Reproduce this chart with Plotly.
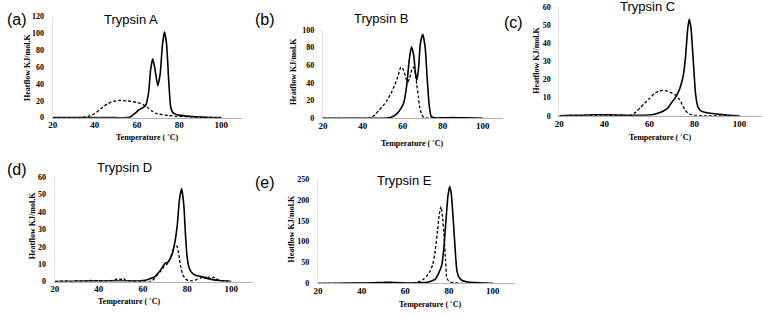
import plotly.graph_objects as go

# ---------------- data ----------------
A_x_solid = [20, 30, 40, 50, 55, 57, 59, 61, 62.5, 64, 65.5, 66.5, 67.5, 68.5, 69.8, 71, 72, 73, 74, 75, 76, 77, 78, 80, 85, 90, 95, 100]
A_y_solid = [0, 0, 0, 0, 0, 1, 5, 9.5, 11.5, 14, 30, 58, 70, 58, 38, 52, 85, 102, 88, 45, 12, 6, 4.5, 3, 1.5, 0.7, 0.2, 0]
A_x_dash = [20, 30, 34, 37, 40, 43, 46, 49, 52, 55, 58, 61, 63, 65, 67, 69, 72, 75, 80, 85, 90, 95, 100]
A_y_dash = [0, 0, 0.3, 1.5, 5, 11, 16.5, 19.5, 20.5, 20, 19, 17.5, 15.5, 12, 8, 5, 3.5, 2.5, 1.5, 1, 0.5, 0.2, 0]

B_x_solid = [20, 30, 40, 50, 53, 55, 57, 59, 60.5, 62, 63.2, 64.3, 65.4, 66.3, 67, 67.8, 68.8, 70, 71.2, 72.2, 73.2, 74.2, 76, 80, 85, 90, 100]
B_y_solid = [0, 0, 0, 0, 0.5, 2, 5, 11, 18, 38, 66, 81, 72, 52, 43, 55, 85, 95, 80, 45, 15, 2, 0.5, 0.5, 1, 0.5, 0]
B_x_dash = [20, 30, 40, 44, 46, 48, 50, 52, 54, 56, 57.5, 59, 60.3, 61.5, 62.5, 63.5, 64.5, 65.4, 66.3, 67, 67.8, 68.5, 69.5, 70.5, 72, 75, 80, 90, 100]
B_y_dash = [0, 0, 0, 0.5, 4, 9, 14, 20, 28, 38, 47, 58, 55, 46, 41, 46, 55, 58, 50, 38, 24, 12, 4, 1, 0.3, 0, 0, 0, 0]

C_x_solid = [20, 25, 30, 35, 40, 45, 50, 55, 58, 61, 64, 66, 68, 70, 72, 73.5, 75, 76, 77, 77.7, 78.5, 79.5, 80.5, 81.5, 83, 85, 88, 92, 96, 100]
C_y_solid = [0, 0.2, 0.3, 0.5, 0.5, 0.4, 0.3, 0.3, 0.3, 0.5, 1.5, 2.5, 4, 7.5, 11, 15, 22, 32, 48, 53.5, 48, 30, 12, 5, 2.5, 1.8, 1.2, 0.6, 0.2, 0]
C_x_dash = [20, 30, 40, 50, 52, 54, 56, 58, 60, 62, 64, 66, 68, 70, 71.5, 73, 74, 75, 76, 77, 78, 80, 85, 100]
C_y_dash = [0, 0, 0, 0, 0.3, 2, 4.5, 7, 9.5, 12, 13.5, 14, 13.5, 12.5, 11.5, 9.5, 7.5, 5, 3, 1.5, 0.8, 0.2, 0, 0]

D_x_solid = [20, 30, 40, 50, 55, 58, 60, 62, 64, 65.5, 67, 68.7, 70, 71.2, 72.3, 73.3, 74.5, 75.5, 76.5, 77.5, 78.5, 79.3, 80, 81, 82.2, 84, 86, 90, 95, 100]
D_y_solid = [0, 0.2, 0.3, 0.3, 0.3, 0.3, 0.5, 1, 2, 3, 5, 8, 10.5, 11, 13, 16, 23, 32, 47, 53.5, 44, 26, 14, 7.5, 5, 3.5, 3, 1.5, 0.5, 0]
D_x_dash = [20, 25, 28, 30, 33, 36, 40, 44, 47, 48.5, 50, 51, 52.5, 55, 60, 63, 64.2, 66, 68, 69.5, 70.5, 71.5, 72.5, 73.5, 74.5, 75.5, 76.3, 77, 78, 79.3, 80.5, 82, 84, 86, 87, 88, 89, 90, 91, 92, 93, 94, 96, 100]
D_y_dash = [0, 0.3, 0, 0.5, 0.2, 0.6, 0.3, 0.4, 0.8, 1.5, 1.2, 1.8, 0.5, 0.2, 0, 0, 0.5, 3, 6, 8.5, 9.5, 11, 14, 18, 21.5, 20, 15, 9, 4, 1.5, 0.5, 0.3, 1, 2, 2.5, 1.8, 3, 2.2, 1.5, 2.5, 1.8, 1, 0.3, 0]

E_x_solid = [20, 30, 40, 45, 50, 53, 56, 60, 65, 68, 70, 72, 73.6, 75, 76.7, 77.7, 78.5, 79.5, 80.3, 81, 82, 83, 83.6, 84.5, 86, 88, 92, 96, 100]
E_y_solid = [0, 0.5, 1, 1.5, 2.5, 3, 2, 1, 1, 2, 3, 6, 10, 22, 45, 90, 145, 210, 232, 215, 145, 65, 30, 15, 7, 4, 2, 1, 0]
E_x_dash = [20, 30, 40, 50, 60, 63, 65, 67, 68.3, 70, 71.3, 72.5, 73.6, 74.6, 75.5, 76.3, 77, 77.8, 78.4, 78.9, 79.5, 80.5, 82, 85, 90, 100]
E_y_dash = [0, 0, 0, 0, 0, 0.5, 2, 6, 10, 19, 29, 45, 76, 120, 165, 184, 160, 107, 55, 14, 8, 4, 2, 0.5, 0, 0]

panel_labels = ["(a)", "(b)", "(c)", "(d)", "(e)"]
panel_titles = ["Trypsin A", "Trypsin B", "Trypsin C", "Trypsin D", "Trypsin E"]
y_max = [120, 100, 60, 60, 250]
y_step = [20, 20, 10, 10, 50]
x_ticks = [20, 40, 60, 80, 100]
x_title = "Temperature ( \u02daC)"
y_title = "Heatflow KJ/mol.K"

series = [
    (A_x_solid, A_y_solid, A_x_dash, A_y_dash),
    (B_x_solid, B_y_solid, B_x_dash, B_y_dash),
    (C_x_solid, C_y_solid, C_x_dash, C_y_dash),
    (D_x_solid, D_y_solid, D_x_dash, D_y_dash),
    (E_x_solid, E_y_solid, E_x_dash, E_y_dash),
]

# ---------------- layout geometry (pixels) ----------------
W, H = 763, 315
# x-pixel of x=20 and x=110, y-pixel of y=0 and y=max
geom = [
    (48, 239, 117, 13),
    (320, 501, 117.7, 26.7),
    (558, 762, 115, 3.3),
    (50, 250, 285.7, 178.3),
    (315, 513, 287.7, 180),
]
label_pos = [(0, 16), (250, 16), (500, 19), (0, 170), (250, 184)]
title_pos = [(127, 16), (378, 15), (647, 3), (120, 168), (402, 182)]
ytitle_pos = [(22, 65), (290, 70), (535, 58), (28, 228), (288, 232)]
xtitle_pos = [(143, 137), (410, 144), (660, 137), (125, 306), (428, 309)]

SERIF = "Times New Roman, Liberation Serif, serif"
SANS = "Arial, Liberation Sans, sans-serif"

fig = go.Figure()
layout = dict(
    width=W, height=H,
    margin=dict(l=0, r=0, t=0, b=0),
    paper_bgcolor="white", plot_bgcolor="white",
    showlegend=False,
)
annotations = []

for i in range(5):
    sfx = "" if i == 0 else str(i + 1)
    xs, ys, xd, yd = series[i]
    x0, x1, yb, yt = geom[i]
    fig.add_trace(go.Scatter(x=xd, y=yd, mode="lines", xaxis="x" + sfx, yaxis="y" + sfx,
                             line=dict(color="black", width=1.3, dash="3px,2px", shape="spline", smoothing=0.5),
                             hoverinfo="skip"))
    fig.add_trace(go.Scatter(x=xs, y=ys, mode="lines", xaxis="x" + sfx, yaxis="y" + sfx,
                             line=dict(color="black", width=1.6, shape="spline", smoothing=0.5),
                             hoverinfo="skip"))
    layout["xaxis" + sfx] = dict(
        domain=[x0 / W, x1 / W], range=[20, 110], anchor="y" + sfx,
        tickvals=x_ticks, showgrid=False, zeroline=False,
        showline=True, linecolor="#b0b0b0", linewidth=1,
        ticks="", ticklabelstandoff=-1,
        tickfont=dict(family=SERIF, size=9, color="black", weight="bold"),
    )
    layout["yaxis" + sfx] = dict(
        domain=[1 - yb / H, 1 - yt / H], range=[0, y_max[i] * 1.0005], anchor="x" + sfx,
        dtick=y_step[i], tick0=0, showgrid=False, zeroline=False,
        showline=True, linecolor="#e0e0e0", linewidth=1,
        ticks="", ticklabelstandoff=6,
        tickfont=dict(family=SERIF, size=8, color="black", weight="bold"),
    )
    annotations.append(dict(text=panel_labels[i], x=label_pos[i][0] / W, y=1 - label_pos[i][1] / H,
                            xref="paper", yref="paper", xanchor="left", yanchor="middle", showarrow=False,
                            font=dict(family=SANS, size=16, color="black")))
    annotations.append(dict(text=panel_titles[i], x=title_pos[i][0] / W, y=1 - title_pos[i][1] / H,
                            xref="paper", yref="paper", xanchor="center", yanchor="middle", showarrow=False,
                            font=dict(family=SANS, size=13, color="black")))
    annotations.append(dict(text=y_title, x=ytitle_pos[i][0] / W, y=1 - ytitle_pos[i][1] / H,
                            xref="paper", yref="paper", xanchor="center", yanchor="middle", showarrow=False,
                            textangle=-90,
                            font=dict(family=SERIF, size=8, color="black", weight="bold")))
    annotations.append(dict(text=x_title, x=xtitle_pos[i][0] / W, y=1 - xtitle_pos[i][1] / H,
                            xref="paper", yref="paper", xanchor="center", yanchor="middle", showarrow=False,
                            borderpad=0,
                            font=dict(family=SERIF, size=8, color="black", weight="bold")))

layout["annotations"] = annotations
fig.update_layout(**layout)
fig.write_html("out.html",
               config={"displayModeBar": False, "staticPlot": True},
               post_script="document.body.style.margin='0';document.body.style.padding='0';"
                           "document.body.style.overflow='hidden';")
